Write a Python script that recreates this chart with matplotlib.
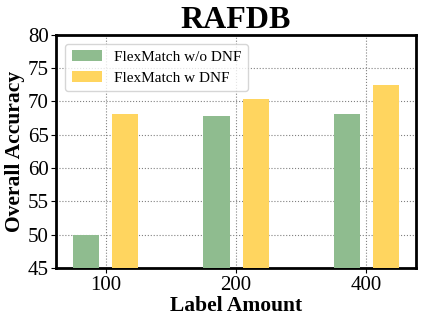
import numpy as np
import matplotlib.pyplot as plt

labels = ['100', '200', '400']
wo_dnf = [49.9, 67.8, 68.1]
w_dnf = [68.1, 70.4, 72.4]

plt.rcParams['font.family'] = ['Liberation Serif', 'DejaVu Serif']

fig, ax = plt.subplots(figsize=(4.23, 3.23), dpi=100)
x = np.arange(len(labels))
w = 0.2
ax.bar(x - 0.15, wo_dnf, w, color='#8fbc8f', label='FlexMatch w/o DNF', zorder=3)
ax.bar(x + 0.15, w_dnf, w, color='#ffd55f', label='FlexMatch w DNF', zorder=3)

ax.set_xticks(x)
ax.set_xticklabels(labels)
ax.set_xlim(-0.38, 2.38)
ax.set_ylim(45, 80)
ax.set_yticks(np.arange(45, 81, 5))
ax.tick_params(labelsize=15, pad=2)
ax.grid(True, linestyle=':', color='gray', linewidth=0.8, zorder=0)
for s in ax.spines.values():
    s.set_linewidth(2)
ax.set_title('RAFDB', fontsize=23, fontweight='bold', pad=3)
ax.set_xlabel('Label Amount', fontsize=15.5, fontweight='bold', labelpad=1)
ax.set_ylabel('Overall Accuracy', fontsize=15.5, fontweight='bold', labelpad=2)
ax.legend(loc='upper left', fontsize=11, fancybox=True, borderaxespad=0.6)

fig.subplots_adjust(left=0.133, right=0.983, top=0.893, bottom=0.17)
fig.savefig('out.png')
